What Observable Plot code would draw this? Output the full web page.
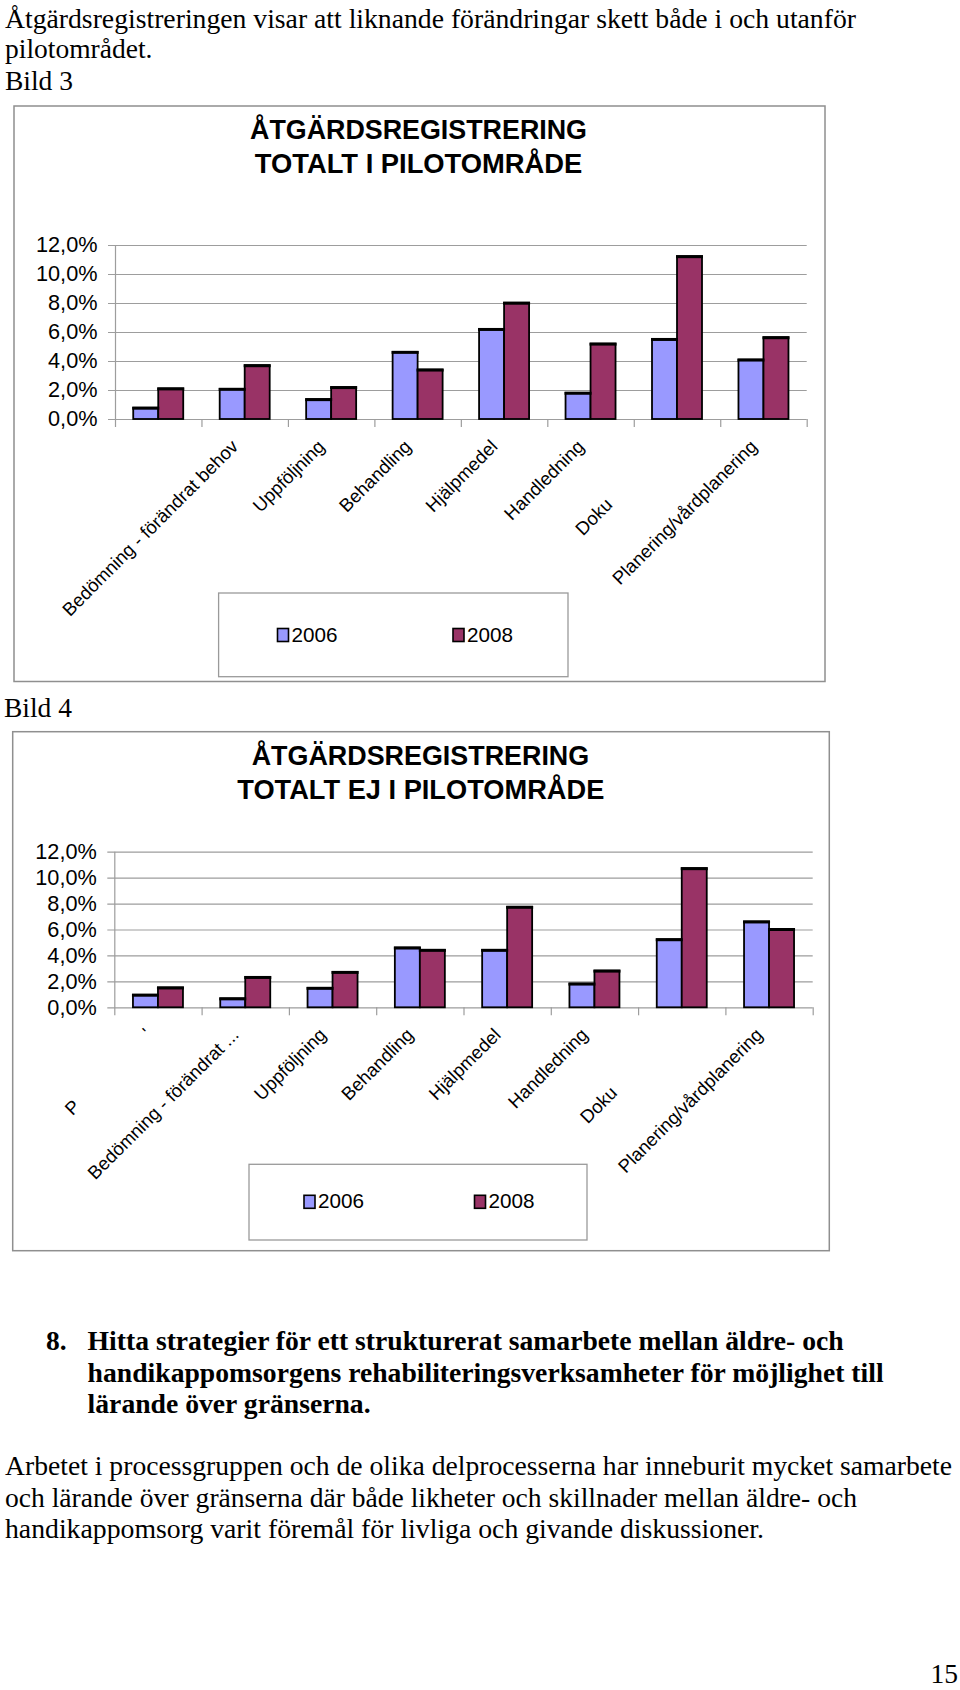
<!DOCTYPE html>
<html><head><meta charset="utf-8">
<script src="https://cdn.jsdelivr.net/npm/d3@7"></script>
<script src="https://cdn.jsdelivr.net/npm/@observablehq/plot@0.6"></script>
<style>
html,body{margin:0;padding:0;background:#fff;}
#page{position:relative;width:960px;height:1690px;overflow:hidden;background:#fff;}
#page > svg{position:absolute;}
</style></head><body><div id="page"></div>
<script>
// ---- data ----
const categories = ["P", "Bedömning - förändrat behov", "Uppföljning", "Behandling", "Hjälpmedel", "Handledning", "Dokumentation", "Planering/vårdplanering"];
const NB = "\u00A0";
const tickLabels1 = ["", "Bedömning - förändrat behov", "Uppföljning", "Behandling", "Hjälpmedel", "Handledning", "Doku" + NB.repeat(16), "Planering/vårdplanering"];
const tickLabels2 = ["P" + NB.repeat(19) + "'", "Bedömning - förändrat ...", "Uppföljning", "Behandling", "Hjälpmedel", "Handledning", "Doku" + NB.repeat(16), "Planering/vårdplanering"];
const pilot2006 = [0.78, 2.08, 1.37, 4.63, 6.21, 1.81, 5.52, 4.10];
const pilot2008 = [2.11, 3.71, 2.20, 3.41, 8.02, 5.20, 11.23, 5.64];
const ejPilot2006 = [0.97, 0.69, 1.50, 4.61, 4.43, 1.83, 5.25, 6.62];
const ejPilot2008 = [1.53, 2.34, 2.73, 4.43, 7.75, 2.83, 10.73, 6.04];
const years = ["2006", "2008"];
const colors = ["#9999FF", "#993366"];
const yTicks = [0, 2, 4, 6, 8, 10, 12];
const title1 = ["ÅTGÄRDSREGISTRERING", "TOTALT I PILOTOMRÅDE"];
const title2 = ["ÅTGÄRDSREGISTRERING", "TOTALT EJ I PILOTOMRÅDE"];

const page = document.getElementById("page");
const SANS = "'Liberation Sans', Arial, Helvetica, sans-serif";
const SERIF = "'Liberation Serif', 'Times New Roman', serif";

// ---- page layer (texts, frames, legends) ----
const svg = d3.select(page).append("svg").attr("width", 960).attr("height", 1690).style("left", "0px").style("top", "0px");

function txt(s, x, y, o = {}) {
  const t = svg.append("text").attr("x", x).attr("y", y).text(s)
    .attr("font-family", o.family || SERIF).attr("font-size", o.size || 27.5)
    .attr("font-weight", o.weight || "normal").attr("fill", "#000")
    .attr("text-anchor", o.anchor || "start");
  if (o.len) t.attr("textLength", o.len).attr("lengthAdjust", "spacingAndGlyphs");
  return t;
}

// body text
txt("Åtgärdsregistreringen visar att liknande förändringar skett både i och utanför", 5, 27.5, {len: 851});
txt("pilotområdet.", 5, 58);
txt("Bild 3", 5, 89.5);
txt("Bild 4", 4, 716.5);
txt("8.", 46, 1350, {weight: "bold"});
txt("Hitta strategier för ett strukturerat samarbete mellan äldre- och", 87.6, 1350, {weight: "bold", len: 756});
txt("handikappomsorgens rehabiliteringsverksamheter för möjlighet till", 87.6, 1381.5, {weight: "bold", len: 796});
txt("lärande över gränserna.", 87.6, 1412.5, {weight: "bold", len: 283});
txt("Arbetet i processgruppen och de olika delprocesserna har inneburit mycket samarbete", 5, 1475, {len: 947});
txt("och lärande över gränserna där både likheter och skillnader mellan äldre- och", 5, 1506.5, {len: 852});
txt("handikappomsorg varit föremål för livliga och givande diskussioner.", 5, 1538, {len: 759});
txt("15", 958, 1683, {anchor: "end"});

// chart frames
function frame(x1, y1, x2, y2) {
  svg.append("rect").attr("x", x1).attr("y", y1).attr("width", x2 - x1).attr("height", y2 - y1)
    .attr("fill", "none").attr("stroke", "#8f8f8f").attr("stroke-width", 1.5);
}
frame(14, 106, 825, 681.5);
frame(12.7, 731.7, 829.3, 1250.7);

// chart titles
function title(lines, xs, lens, ys) {
  lines.forEach((s, i) => txt(s, xs[i], ys[i], {family: SANS, weight: "bold", size: 26.8, len: lens[i]}));
}
title(title1, [250, 254.8], [337, 327.5], [139, 172.7]);
title(title2, [251.7, 237.3], [337.5, 367], [765, 799]);

// legends
function legend(box, sw, ys) {
  svg.append("rect").attr("x", box[0]).attr("y", box[1]).attr("width", box[2] - box[0]).attr("height", box[3] - box[1])
    .attr("fill", "#fff").attr("stroke", "#9a9a9a").attr("stroke-width", 1.3);
  years.forEach((yr, i) => {
    svg.append("rect").attr("x", sw[i]).attr("y", ys - 13).attr("width", 11).attr("height", 13)
      .attr("fill", colors[i]).attr("stroke", "#000").attr("stroke-width", 1.6);
    txt(yr, sw[i] + 14, ys, {family: SANS, size: 20.7});
  });
}
legend([218.6, 593, 568, 676.7], [277.5, 453], 641.5);
legend([249, 1164.3, 587, 1240], [304, 474.5], 1208.3);

// ---- charts with Plot ----
function chart(v2006, v2008, labels, o) {
  const plotW = o.width - o.marginLeft - o.marginRight;
  const step = plotW / categories.length;
  const groupW = 50;
  const pin = 1 - groupW / step;
  const rows = categories.map((c, i) => ({category: c, label: labels[i], v2006: v2006[i], v2008: v2008[i]}));
  const grey = "#9d9d9d";
  const p = Plot.plot({
    width: o.width,
    height: o.marginTop + o.plotH + o.marginBottom,
    marginLeft: o.marginLeft, marginRight: o.marginRight, marginTop: o.marginTop, marginBottom: o.marginBottom,
    style: {background: "transparent", fontFamily: SANS, fontSize: "21.7px", color: "#000", overflow: "visible"},
    x: {type: "band", domain: categories, paddingInner: pin, paddingOuter: pin / 2, align: 0.5, round: false, axis: null},
    y: {domain: [0, 12], ticks: yTicks, tickSize: 0, tickPadding: 18, label: null,
        tickFormat: d => d.toFixed(1).replace(".", ",") + "%"},
    marks: [
      Plot.ruleY(yTicks, {stroke: grey, strokeWidth: 1.2, insetLeft: -7}),
      Plot.ruleX([categories[0]], {dx: -step / 2, stroke: grey, strokeWidth: 1.2, insetBottom: -8}),
      Plot.ruleX(categories, {dx: step / 2, stroke: grey, strokeWidth: 1.2, insetTop: o.plotH, insetBottom: -8}),
      Plot.barY(rows, {x: "category", y: "v2006", fill: colors[0], stroke: "#000", strokeWidth: 1.8, insetRight: groupW / 2}),
      Plot.barY(rows, {x: "category", y: "v2008", fill: colors[1], stroke: "#000", strokeWidth: 1.8, insetLeft: groupW / 2}),
      Plot.tickY(rows, {x: "category", y: "v2006", stroke: "#000", strokeWidth: 3, insetRight: groupW / 2 - 1, insetLeft: -1}),
      Plot.tickY(rows, {x: "category", y: "v2008", stroke: "#000", strokeWidth: 3, insetLeft: groupW / 2 - 1, insetRight: -1}),
      Plot.text(rows, {x: "category", text: "label", frameAnchor: "bottom", rotate: -45, textAnchor: "end",
        lineAnchor: "middle", dx: -10, dy: 24, fontSize: 18.5, fill: "#000"})
    ]
  });
  p.style.position = "absolute";
  p.style.left = o.left + "px";
  p.style.top = o.top + "px";
  p.style.maxWidth = "none";
  page.appendChild(p);
}

chart(pilot2006, pilot2008, tickLabels1, {left: 0, top: 220, width: 830, marginLeft: 115, marginRight: 23.3, marginTop: 25, plotH: 174, marginBottom: 200});
chart(ejPilot2006, ejPilot2008, tickLabels2, {left: 0, top: 826, width: 835, marginLeft: 114.3, marginRight: 22.3, marginTop: 25.7, plotH: 155.6, marginBottom: 200});
</script>
</body></html>
